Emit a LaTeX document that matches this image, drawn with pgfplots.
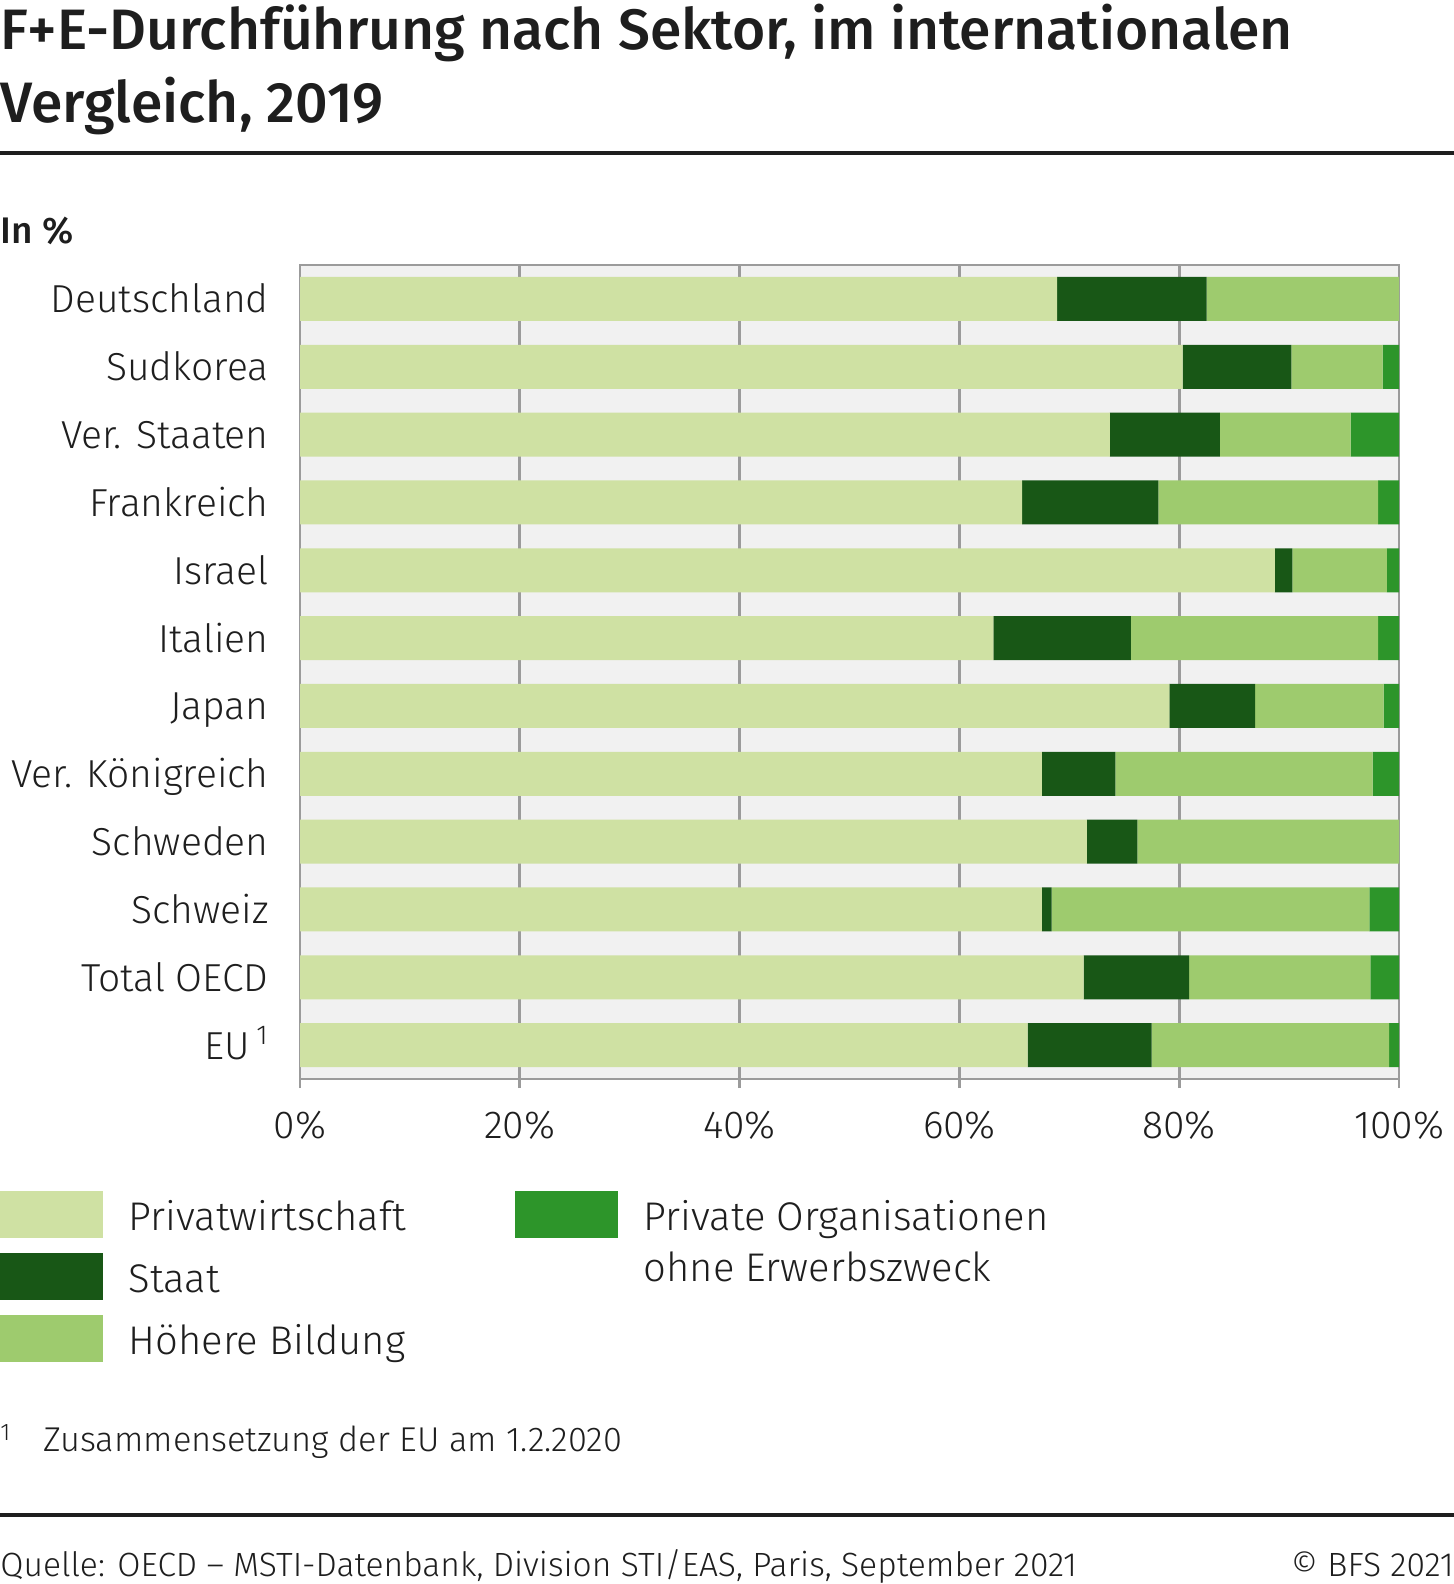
\documentclass[border=0pt]{standalone}
\usepackage{pgfplots}
\pgfplotsset{compat=1.18}
\usepackage{pgfplotstable}
\usepackage{fontspec}
\setmainfont{Fira Sans}[UprightFont=* Light, BoldFont=* Medium]
\definecolor{cPriv}{HTML}{CFE1A3}
\definecolor{cStaat}{HTML}{185716}
\definecolor{cHoch}{HTML}{9ECB6E}
\definecolor{cPNP}{HTML}{2D952A}
\definecolor{cBg}{HTML}{F1F1F1}
\definecolor{cGrid}{HTML}{9B9B9B}
\definecolor{cTxt}{HTML}{1E1E1E}
\newcommand\lstrut{\rule[-6pt]{0pt}{31.5pt}}
\pgfplotstableread{
idx Privat Staat Hoch PNP
0  68.9 13.6 17.5 0.0
1  80.3  9.9  8.3 1.5
2  73.7 10.0 11.9 4.4
3  65.7 12.4 20.0 1.9
4  88.7  1.6  8.6 1.1
5  63.1 12.5 22.5 1.9
6  79.1  7.8 11.7 1.4
7  67.5  6.7 23.4 2.4
8  71.6  4.6 23.8 0.0
9  67.5  0.9 28.9 2.7
10 71.3  9.6 16.5 2.6
11 66.2 11.3 21.6 0.9
}\datatable
\begin{document}
\begin{tikzpicture}[color=cTxt]
\path[use as bounding box] (0pt,0pt) rectangle (727pt,-792pt);
% title
\node[anchor=base west,inner sep=0pt,font=\bfseries\fontsize{28.5}{36}\selectfont] at (0pt,-25pt) {F+E-Durchführung nach Sektor, im internationalen};
\node[anchor=base west,inner sep=0pt,font=\bfseries\fontsize{28.5}{36}\selectfont] at (0pt,-61.5pt) {Vergleich, 2019};
\draw[line width=1.6pt,cTxt] (0pt,-76.5pt) -- (727pt,-76.5pt);
\node[anchor=base west,inner sep=0pt,font=\bfseries\fontsize{18.5}{22}\selectfont] at (0pt,-121.5pt) {In \%};
\begin{axis}[
  at={(150pt,-539.5pt)}, anchor=south west,
  width=549.5pt, height=407pt, scale only axis,
  xbar stacked, bar width=22pt,
  xmin=0, xmax=100, ymin=-0.5, ymax=11.5, y dir=reverse,
  ytick={0,...,11},
  yticklabels={Deutschland,Sudkorea,Ver. Staaten,Frankreich,Israel,Italien,Japan,Ver. Königreich,Schweden,Schweiz,Total OECD,EU\,\textsuperscript{1}},
  xtick={0,20,40,60,80,100},
  xticklabels={0\%,20\%,40\%,60\%,80\%,100\%},
  xmajorgrids, grid style={draw=cGrid,line width=1.4pt},
  axis line style={draw=cGrid,line width=1.4pt},
  axis background/.style={fill=cBg},
  xtick pos=bottom, tick align=outside, major tick length=4.5pt,
  xtick style={draw=cGrid,line width=1.4pt},
  ytick style={draw=none},
  xticklabel style={font=\fontsize{19.5}{24}\selectfont,text=cTxt,anchor=base,inner sep=0pt,yshift=-25pt},
  yticklabel style={font=\fontsize{19.5}{24}\selectfont,text=cTxt,anchor=base east,inner sep=0pt,yshift=-7pt,xshift=-11pt},
  legend style={at={(-0.27298,-0.118)},anchor=north west,draw=none,fill=none,inner sep=0pt,outer sep=0pt,
    row sep=0pt,column sep=0pt,font=\fontsize{20}{25.5}\selectfont,text=cTxt,
    cells={anchor=base west},
    /tikz/every odd column/.append style={column sep=11pt}},
  legend columns=2,
  sw/.style={legend image code/.code={\fill[#1] (0pt,-3.5pt) rectangle (51pt,19.5pt);}},
]
\addplot[fill=cPriv,draw=none,forget plot] table[x=Privat,y=idx]{\datatable};
\addplot[fill=cStaat,draw=none,forget plot] table[x=Staat,y=idx]{\datatable};
\addplot[fill=cHoch,draw=none,forget plot] table[x=Hoch,y=idx]{\datatable};
\addplot[fill=cPNP,draw=none,forget plot] table[x=PNP,y=idx]{\datatable};
\addlegendimage{sw=cPriv}
\addlegendentry{\lstrut\makebox[191pt][l]{Privatwirtschaft}}
\addlegendimage{sw=cPNP}
\addlegendentry{\lstrut\smash{\begin{tabular}[t]{@{}l@{}}Private Organisationen\\ohne Erwerbszweck\end{tabular}}}
\addlegendimage{sw=cStaat}
\addlegendentry{\lstrut\makebox[191pt][l]{Staat}}
\addlegendimage{empty legend}
\addlegendentry{\lstrut}
\addlegendimage{sw=cHoch}
\addlegendentry{\lstrut\makebox[191pt][l]{Höhere Bildung}}
\addlegendimage{empty legend}
\addlegendentry{\lstrut}
\end{axis}
% footnote
\node[anchor=base west,inner sep=0pt,font=\fontsize{12}{14}\selectfont] at (0pt,-720pt) {1};
\node[anchor=base west,inner sep=0pt,font=\fontsize{17.2}{20}\selectfont] at (21.5pt,-725.5pt) {Zusammensetzung der EU am 1.2.2020};
\draw[line width=1.6pt,cTxt] (0pt,-757.5pt) -- (727pt,-757.5pt);
\node[anchor=base west,inner sep=0pt,font=\fontsize{16.8}{20}\selectfont] at (0pt,-788pt) {Quelle: OECD – MSTI-Datenbank, Division STI/EAS, Paris, September 2021};
\node[anchor=base east,inner sep=0pt,font=\fontsize{16.8}{20}\selectfont] at (727pt,-788pt) {© BFS 2021};
\end{tikzpicture}
\end{document}
